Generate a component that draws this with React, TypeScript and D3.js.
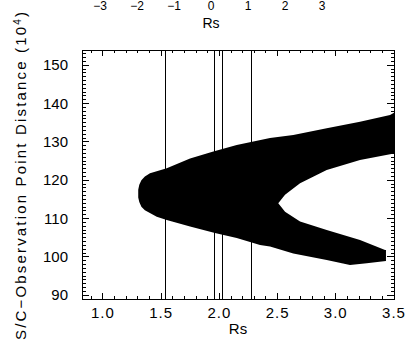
import React from "react";
import * as d3 from "d3";

const W = 409;
const H = 350;

// Axis ranges and ticks
const xDomain = [0.82, 3.5];
const yDomain = [89, 154];
const xMajorTicks = [1.0, 1.5, 2.0, 2.5, 3.0, 3.5];
const xTickLabels = ["1.0", "1.5", "2.0", "2.5", "3.0", "3.5"];
const yMajorTicks = [90, 100, 110, 120, 130, 140, 150];
const yTickLabels = ["90", "100", "110", "120", "130", "140", "150"];
const topTicks = [-3, -2, -1, 0, 1, 2, 3];
const topTickLabels = ["\u22123", "\u22122", "\u22121", "0", "1", "2", "3"];

// Vertical reference lines (Rs)
const vLines = [1.54, 1.96, 2.03, 2.28];

// Outer boundary of filled region: upper branch (right -> tip), then lower branch (tip -> right end)
const outerRs = [3.5, 3.466, 3.208, 2.922, 2.635, 2.435, 2.149, 1.948, 1.748, 1.548, 1.404, 1.36, 1.33, 1.312, 1.303, 1.303, 1.312, 1.33, 1.36, 1.462, 1.548, 1.748, 1.962, 2.149, 2.349, 2.435, 2.635, 2.922, 3.122, 3.266, 3.431, 3.431];
const outerDist = [137.6, 137.0, 135.3, 133.6, 131.8, 131.0, 129.2, 127.5, 125.7, 123.1, 121.8, 121.0, 120.0, 118.8, 117.5, 115.5, 114.3, 113.1, 112.2, 110.5, 109.6, 107.9, 106.2, 104.9, 103.1, 102.7, 100.9, 99.2, 97.9, 98.3, 98.9, 101.8];
// Inner (hollow) boundary: lower branch (right -> tip), then upper branch (tip -> right edge)
const innerRs = [3.423, 3.208, 2.922, 2.693, 2.564, 2.506, 2.564, 2.693, 2.922, 3.208, 3.5];
const innerDist = [101.8, 104.4, 107.0, 109.2, 111.8, 114.0, 116.2, 119.2, 122.7, 125.3, 127.0];

const FONT = "'Liberation Sans', 'DejaVu Sans', sans-serif";

export default function App() {
  const left = 82, right = 394, top = 50, bottom = 299;
  const x = d3.scaleLinear().domain(xDomain).range([left, right]);
  const y = d3.scaleLinear().domain(yDomain).range([bottom, top]);
  const xTop = d3.scaleLinear().domain([-3, 3]).range([100, 322]);

  const pts: [number, number][] = [];
  outerRs.forEach((r, i) => pts.push([r, outerDist[i]]));
  innerRs.forEach((r, i) => pts.push([r, innerDist[i]]));
  const line = d3
    .line<[number, number]>()
    .x((d) => x(d[0]))
    .y((d) => y(d[1]))
    .curve(d3.curveLinearClosed);

  const xMinor = d3.range(9, 35).map((v) => v / 10).filter((v) => v >= xDomain[0] && v <= xDomain[1]);
  const yMinor = d3.range(89, 155);

  const majLenX = 6, minLenX = 3, majLenY = 7, minLenY = 3.5;

  return (
    <svg width={W} height={H} style={{ position: "absolute", left: 0, top: 0, background: "#fff" }}>
      <rect x={0} y={0} width={W} height={H} fill="#fff" />
      {/* top axis labels of the plot above */}
      {topTicks.map((t, i) => (
        <text key={"tt" + i} x={xTop(t)} y={10} fontFamily={FONT} fontSize={12} textAnchor="middle" fill="#000">
          {topTickLabels[i]}
        </text>
      ))}
      <text x={211} y={28} fontFamily={FONT} fontSize={14} textAnchor="middle" fill="#000">Rs</text>

      {/* filled region */}
      <clipPath id="plotclip">
        <rect x={left} y={top} width={right - left} height={bottom - top} />
      </clipPath>
      <path d={line(pts) || ""} fill="#000" stroke="none" clipPath="url(#plotclip)" />

      {/* vertical lines */}
      {vLines.map((v, i) => (
        <line key={"v" + i} x1={x(v)} x2={x(v)} y1={top} y2={bottom} stroke="#000" strokeWidth={1} shapeRendering="crispEdges" />
      ))}

      {/* frame */}
      <rect x={left} y={top} width={right - left} height={bottom - top} fill="none" stroke="#000" strokeWidth={1} shapeRendering="crispEdges" />

      {/* ticks on all four sides */}
      <g stroke="#000" strokeWidth={1} shapeRendering="crispEdges">
        {xMinor.map((v, i) => (
          <g key={"xm" + i}>
            <line x1={x(v)} x2={x(v)} y1={bottom} y2={bottom - minLenX} />
            <line x1={x(v)} x2={x(v)} y1={top} y2={top + minLenX} />
          </g>
        ))}
        {xMajorTicks.map((v, i) => (
          <g key={"xM" + i}>
            <line x1={x(v)} x2={x(v)} y1={bottom} y2={bottom - majLenX} />
            <line x1={x(v)} x2={x(v)} y1={top} y2={top + majLenX} />
          </g>
        ))}
        {yMinor.map((v, i) => (
          <g key={"ym" + i}>
            <line x1={left} x2={left + minLenY} y1={y(v)} y2={y(v)} />
            <line x1={right} x2={right - minLenY} y1={y(v)} y2={y(v)} />
          </g>
        ))}
        {yMajorTicks.map((v, i) => (
          <g key={"yM" + i}>
            <line x1={left} x2={left + majLenY} y1={y(v)} y2={y(v)} />
            <line x1={right} x2={right - majLenY} y1={y(v)} y2={y(v)} />
          </g>
        ))}
      </g>

      {/* x tick labels */}
      {xMajorTicks.map((v, i) => (
        <text key={"xl" + i} x={x(v)} y={318} fontFamily={FONT} fontSize={15} textAnchor="middle" fill="#000" letterSpacing={1}>
          {xTickLabels[i]}
        </text>
      ))}
      <text x={(left + right) / 2} y={334} fontFamily={FONT} fontSize={15} textAnchor="middle" fill="#000">Rs</text>

      {/* y tick labels */}
      {yMajorTicks.map((v, i) => (
        <text key={"yl" + i} x={68} y={y(v) + 5} fontFamily={FONT} fontSize={15} textAnchor="end" fill="#000">
          {yTickLabels[i]}
        </text>
      ))}

      {/* y axis title */}
      <text
        transform={`translate(26, 176) rotate(-90)`}
        fontFamily={FONT}
        fontSize={15}
        textAnchor="middle"
        fill="#000"
        textLength={328}
        lengthAdjust="spacing"
      >
        S/C{"\u2212"}Observation Point Distance (10<tspan baselineShift="super" fontSize={10}>4</tspan>)
      </text>
    </svg>
  );
}
